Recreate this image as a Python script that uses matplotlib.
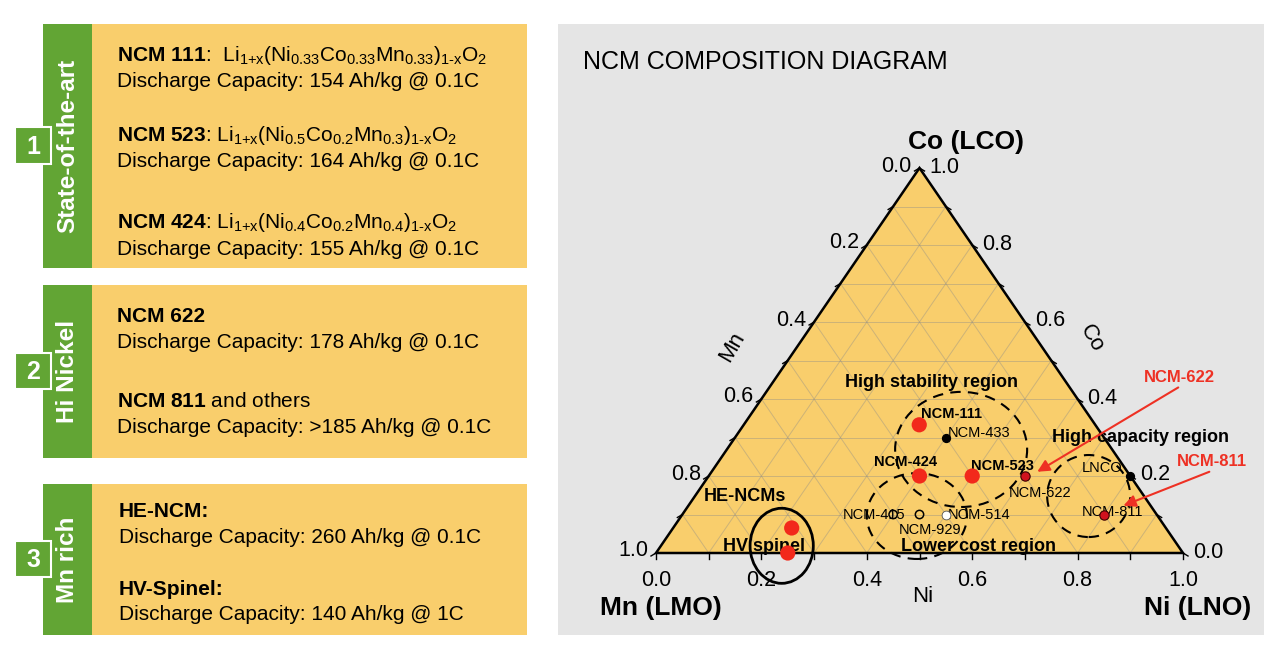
import matplotlib
matplotlib.use('Agg')
import matplotlib.pyplot as plt
from matplotlib.patches import Rectangle, Polygon, Ellipse

plt.rcParams['font.family'] = ['Liberation Sans', 'DejaVu Sans']
plt.rcParams['mathtext.fontset'] = 'custom'
plt.rcParams['mathtext.rm'] = 'Liberation Sans'
plt.rcParams['mathtext.it'] = 'Liberation Sans:italic'
plt.rcParams['mathtext.bf'] = 'Liberation Sans:bold'

# ---------------- data ----------------
panel_titles = ['State-of-the-art', 'Hi Nickel', 'Mn rich']
panel_numbers = ['1', '2', '3']
SUB1 = r'$_{1{+}\mathrm{x}}$'
SUB2 = r'$_{1\text{-}\mathrm{x}}$'
panel_heads = [
    [(r'$\mathbf{NCM\ 111}$:  Li' + SUB1 + r'(Ni$_{0.33}$Co$_{0.33}$Mn$_{0.33}$)' + SUB2 + r'O$_2$', 'normal'),
     (r'$\mathbf{NCM\ 523}$: Li' + SUB1 + r'(Ni$_{0.5}$Co$_{0.2}$Mn$_{0.3}$)' + SUB2 + r'O$_2$', 'normal'),
     (r'$\mathbf{NCM\ 424}$: Li' + SUB1 + r'(Ni$_{0.4}$Co$_{0.2}$Mn$_{0.4}$)' + SUB2 + r'O$_2$', 'normal')],
    [('NCM 622', 'bold'),
     (r'$\mathbf{NCM\ 811}$ and others', 'normal')],
    [('HE-NCM:', 'bold'),
     ('HV-Spinel:', 'bold')],
]
panel_caps = [['154', '164', '155'], ['178', '>185'], ['260', '140']]
panel_rates = [['0.1C', '0.1C', '0.1C'], ['0.1C', '0.1C'], ['0.1C', '1C']]

# ternary points: Ni, Co fractions (Mn = 1 - Ni - Co)
pt_names = ['NCM-111', 'NCM-424', 'NCM-523', 'HE-NCM', 'HV spinel',
            'NCM-622', 'NCM-811', 'NCM-433', 'LNCO', 'NCM-415', 'NCM-929', 'NCM-514']
pt_ni = [0.333, 0.40, 0.50, 0.225, 0.25, 0.60, 0.80, 0.40, 0.80, 0.40, 0.45, 0.50]
pt_co = [0.333, 0.20, 0.20, 0.065, 0.00, 0.20, 0.10, 0.30, 0.20, 0.10, 0.10, 0.10]
pt_kind = ['big', 'big', 'big', 'big', 'big', 'dark', 'dark', 'black', 'black', 'open', 'open', 'white']

tick_values = [0.0, 0.2, 0.4, 0.6, 0.8, 1.0]

# ---------------- layout ----------------
W, H = 1280, 651
GREEN = '#62a534'
ORANGE = '#f9ce6c'
GREY = '#e5e5e5'
RED = '#f2291b'

fig = plt.figure(figsize=(12.8, 6.51), dpi=100)
fig.patch.set_facecolor('white')
bg = fig.add_axes([0, 0, 1, 1])
bg.set_xlim(0, W)
bg.set_ylim(H, 0)
bg.axis('off')

panels_y = [(24, 268), (285, 458), (484, 635)]
num_y = [(127, 164), (353, 389), (541, 577)]
line_y = [[(61, 87), (141, 167), (228, 255)],
          [(322, 348), (407, 433)],
          [(517, 543), (595, 620)]]
text_x = [117, 117, 119]

for i, (y0, y1) in enumerate(panels_y):
    bg.add_patch(Rectangle((92, y0), 527 - 92, y1 - y0, facecolor=ORANGE, edgecolor='none'))
    bg.add_patch(Rectangle((43, y0), 49, y1 - y0, facecolor=GREEN, edgecolor='none'))
    bg.text(68, (y0 + y1) / 2, panel_titles[i], rotation=90, color='white', fontsize=17.5,
            fontweight='bold', ha='center', va='center')
    ny0, ny1 = num_y[i]
    bg.add_patch(Rectangle((15, ny0), 36, ny1 - ny0, facecolor=GREEN, edgecolor='white', lw=1.5))
    bg.text(33, (ny0 + ny1) / 2 + 1, panel_numbers[i], color='white', fontsize=18,
            fontweight='bold', ha='center', va='center')
    for j, (ya, yb) in enumerate(line_y[i]):
        head, weight = panel_heads[i][j]
        bg.text(text_x[i], ya, head, fontsize=15, fontweight=weight, va='baseline', ha='left')
        bg.text(text_x[i], yb, 'Discharge Capacity: %s Ah/kg @ %s' % (panel_caps[i][j], panel_rates[i][j]),
                fontsize=15, va='baseline', ha='left')

# right grey panel
bg.add_patch(Rectangle((558, 24), 1264 - 558, 635 - 24, facecolor=GREY, edgecolor='none'))
bg.text(583, 62, 'NCM COMPOSITION DIAGRAM', fontsize=18, ha='left', va='center')

# ternary axes: x = Ni + Co/2, y = Co
X0, X1, YB, YT = 656, 1183, 553, 168
ax = fig.add_axes([X0 / W, (H - YB) / H, (X1 - X0) / W, (YB - YT) / H])
ax.set_xlim(0, 1)
ax.set_ylim(0, 1)
ax.axis('off')
PX = 1.0 / (X1 - X0)
PY = 1.0 / (YB - YT)


def tern(ni, co):
    return ni + co / 2.0, co


ax.add_patch(Polygon([(0, 0), (1, 0), (0.5, 1)], closed=True, facecolor=ORANGE,
                     edgecolor='none', zorder=1))
# grid
for k in range(1, 10):
    v = k / 10.0
    gkw = dict(color='#8a8a8a', alpha=0.4, lw=0.7, zorder=2)
    ax.plot([v / 2, 1 - v / 2], [v, v], **gkw)                 # constant Co
    ax.plot([v, v + (1 - v) / 2], [0, 1 - v], **gkw)           # constant Ni
    ax.plot([1 - v, (1 - v) / 2], [0, 1 - v], **gkw)           # constant Mn
ax.add_patch(Polygon([(0, 0), (1, 0), (0.5, 1)], closed=True, facecolor='none',
                     edgecolor='black', lw=1.8, zorder=3, clip_on=False))

# ticks
for k in range(11):
    v = k / 10.0
    ax.plot([v, v], [0, -6 * PY], color='black', lw=1, clip_on=False, zorder=3)
    lx, ly = tern(0, 1 - v)
    ax.plot([lx, lx - 5 * PX], [ly, ly - 3 * PY], color='black', lw=1, clip_on=False, zorder=3)
    rx, ry = tern(1 - v, v)
    ax.plot([rx, rx + 5 * PX], [ry, ry - 3 * PY], color='black', lw=1, clip_on=False, zorder=3)

for v in tick_values:
    ax.text(v, -28 * PY, '%.1f' % v, fontsize=15.5, ha='center', va='center')
    lx, ly = tern(0, 1 - v)
    ax.text(lx - 8 * PX, ly + 2 * PY, '%.1f' % v, fontsize=15.5, ha='right', va='center')
    rx, ry = tern(1 - v, v)
    ax.text(rx + 10 * PX, ry + 1 * PY, '%.1f' % v, fontsize=15.5, ha='left', va='center')

# axis labels
ax.text(0.588, 1.0675, 'Co (LCO)', fontsize=19, fontweight='bold', ha='center', va='center')
ax.text(0.0095, -0.143, 'Mn (LMO)', fontsize=19, fontweight='bold', ha='center', va='center')
ax.text(1.0285, -0.143, 'Ni (LNO)', fontsize=19, fontweight='bold', ha='center', va='center')
ax.text(0.506, -0.114, 'Ni', fontsize=16, ha='center', va='center')
ax.text(0.1436, 0.536, 'Mn', fontsize=16, ha='center', va='center', rotation=60)
ax.text(0.827, 0.558, 'Co', fontsize=16, ha='center', va='center', rotation=-60)

# region ellipses
ekw = dict(facecolor='none', edgecolor='black', lw=1.5, linestyle=(0, (5, 3.5)), zorder=4, clip_on=False)
ax.add_patch(Ellipse((0.579, 0.269), 0.2505, 0.299, **ekw))
ax.add_patch(Ellipse((0.495, 0.096), 0.19, 0.223, **ekw))
ax.add_patch(Ellipse((0.821, 0.148), 0.1575, 0.213, **ekw))
ax.add_patch(Ellipse((0.2385, 0.0187), 0.120, 0.195, facecolor='none', edgecolor='black',
                     lw=2, zorder=4, clip_on=False))

# points
styles = {
    'big': dict(s=120, c=RED, edgecolors='none'),
    'dark': dict(s=45, c='#d0121e', edgecolors='#3a0000', linewidths=0.8),
    'black': dict(s=32, c='black', edgecolors='black'),
    'open': dict(s=36, facecolors='none', edgecolors='black', linewidths=1.1),
    'white': dict(s=40, facecolors='white', edgecolors='#555555', linewidths=0.6),
}
for kind in styles:
    xs = [tern(n, c)[0] for n, c, k in zip(pt_ni, pt_co, pt_kind) if k == kind]
    ys = [tern(n, c)[1] for n, c, k in zip(pt_ni, pt_co, pt_kind) if k == kind]
    ax.scatter(xs, ys, zorder=6, clip_on=False, **styles[kind])

# labels
lab = [
    ('High stability region', 0.522, 0.4416, 13, 'bold'),
    ('NCM-111', 0.561, 0.361, 10.5, 'bold'),
    ('NCM-433', 0.613, 0.311, 10.5, 'normal'),
    ('NCM-424', 0.4734, 0.237, 10.5, 'bold'),
    ('NCM-523', 0.658, 0.226, 10.5, 'bold'),
    ('NCM-622', 0.729, 0.157, 10.5, 'normal'),
    ('High capacity region', 0.919, 0.3005, 13, 'bold'),
    ('LNCO', 0.847, 0.22, 10.5, 'normal'),
    ('NCM-811', 0.866, 0.107, 10.5, 'normal'),
    ('HE-NCMs', 0.1685, 0.146, 13, 'bold'),
    ('HV spinel', 0.205, 0.0164, 13, 'bold'),
    ('NCM-415', 0.4146, 0.0987, 10.5, 'normal'),
    ('NCM-929', 0.5205, 0.0597, 10.5, 'normal'),
    ('NCM-514', 0.613, 0.0987, 10.5, 'normal'),
    ('Lower cost region', 0.612, 0.018, 13, 'bold'),
]
for t, x, y, fs, fw in lab:
    ax.text(x, y, t, fontsize=fs, fontweight=fw, ha='center', va='center', zorder=5)

ARED = '#ee3124'
ax.text(0.993, 0.456, 'NCM-622', fontsize=12, fontweight='bold', color=ARED, ha='center', va='center')
ax.text(1.054, 0.237, 'NCM-811', fontsize=12, fontweight='bold', color=ARED, ha='center', va='center')
akw = dict(arrowstyle='-|>', color=ARED, lw=1.5, mutation_scale=18, shrinkA=0, shrinkB=0)
ax.annotate('', xy=(0.7235, 0.211), xytext=(0.991, 0.430), arrowprops=akw, zorder=7)
ax.annotate('', xy=(0.887, 0.123), xytext=(1.050, 0.211), arrowprops=akw, zorder=7)

fig.savefig('out.png', dpi=100, facecolor='white')
